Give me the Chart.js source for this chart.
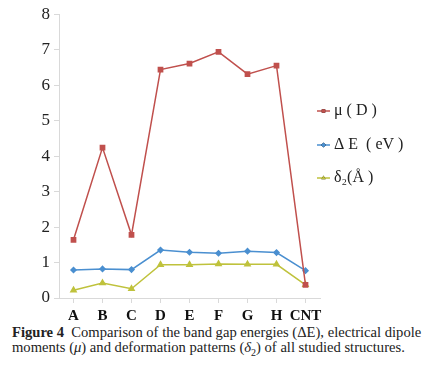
<!DOCTYPE html>
<html>
<head>
<meta charset="utf-8">
<script src="https://cdn.jsdelivr.net/npm/chart.js@4"></script>
<style>
  body { margin: 0; background: #fff; width: 439px; height: 372px; overflow: hidden; }
  #wrap { position: absolute; left: 0; top: 0; width: 439px; height: 324px; }
  #caption { position: absolute; left: 12px; top: 325px; width: 427px;
    font-family: "Liberation Serif", "DejaVu Serif", serif; font-size: 14.6px; line-height: 15px; color: #222; }
</style>
</head>
<body>
<div id="wrap"><canvas id="chart"></canvas></div>
<div id="caption"><b>Figure 4</b>&nbsp; Comparison of the band gap energies (ΔE), electrical dipole moments (<i>μ</i>) and deformation patterns (<i>δ</i><sub style="font-size:10px">2</sub>) of all studied structures.</div>
<script>
// data
const categories = ['A', 'B', 'C', 'D', 'E', 'F', 'G', 'H', 'CNT'];
const mu_values = [1.64, 4.24, 1.78, 6.44, 6.61, 6.94, 6.31, 6.55, 0.37];
const gap_values = [0.79, 0.82, 0.80, 1.35, 1.29, 1.26, 1.32, 1.28, 0.77];
const delta_values = [0.22, 0.42, 0.26, 0.94, 0.94, 0.96, 0.95, 0.95, 0.37];
const series_labels = ['\u03bc ( D )', '\u0394 E  ( eV )', '\u03b4\u2082(\u00c5 )'];

const red = '#c0504d';
const blue = '#4a8fd0';
const yellow = '#bfc23c';
const serif = '"Liberation Serif", "DejaVu Serif", serif';

// legend on the right: short line with marker in the middle
const side_legend = {
    id: 'side_legend',
    afterDraw(chart) {
        const ctx = chart.ctx;
        const rows = [111, 145, 178];
        chart.data.datasets.forEach((ds, i) => {
            const y = rows[i];
            ctx.save();
            ctx.strokeStyle = ds.borderColor;
            ctx.lineWidth = 1.5;
            ctx.beginPath();
            ctx.moveTo(317, y);
            ctx.lineTo(330, y);
            ctx.stroke();
            Chart.helpers.drawPoint(ctx, {
                pointStyle: ds.pointStyle, radius: 2.5, rotation: 0
            }, 323.5, y);
            ctx.fillStyle = ds.borderColor;
            ctx.fill();
            ctx.fillStyle = '#222';
            ctx.font = '16px ' + serif;
            ctx.textBaseline = 'middle';
            ctx.fillText(series_labels[i], 334, y);
            ctx.restore();
        });
    }
};

const chart_el = document.getElementById('chart');
new Chart(chart_el, {
    type: 'line',
    data: {
        labels: categories,
        datasets: [{
            label: series_labels[0],
            data: mu_values,
            borderColor: red,
            backgroundColor: red,
            borderWidth: 1.5,
            pointStyle: 'rect',
            pointRadius: 3,
            tension: 0
        }, {
            label: series_labels[1],
            data: gap_values,
            borderColor: blue,
            backgroundColor: blue,
            borderWidth: 1.5,
            pointStyle: 'rectRot',
            pointRadius: 2.5,
            tension: 0
        }, {
            label: series_labels[2],
            data: delta_values,
            borderColor: yellow,
            backgroundColor: yellow,
            borderWidth: 1.5,
            pointStyle: 'triangle',
            pointRadius: 3,
            tension: 0
        }]
    },
    options: {
        responsive: true,
        maintainAspectRatio: false,
        animation: false,
        layout: { padding: { top: 13, right: 119, left: 0, bottom: 0 } },
        plugins: {
            legend: { display: false },
            tooltip: { enabled: false }
        },
        scales: {
            y: {
                min: 0,
                max: 8,
                ticks: {
                    stepSize: 1,
                    color: '#222',
                    padding: 4,
                    font: { family: serif, size: 17 }
                },
                grid: {
                    drawOnChartArea: false,
                    tickLength: 5,
                    color: '#d9d9d9'
                },
                border: { color: '#d9d9d9' },
                afterFit(scale) { scale.width = 59; }
            },
            x: {
                offset: true,
                ticks: {
                    color: '#111',
                    padding: 4,
                    maxRotation: 0,
                    minRotation: 0,
                    autoSkip: false,
                    font: { family: serif, size: 15, weight: 'bold' }
                },
                grid: {
                    drawOnChartArea: false,
                    offset: false,
                    tickLength: 5,
                    color: '#d9d9d9'
                },
                border: { color: '#d9d9d9' },
                afterFit(scale) { scale.height = 26; }
            }
        }
    },
    plugins: [side_legend]
});
</script>
</body>
</html>
